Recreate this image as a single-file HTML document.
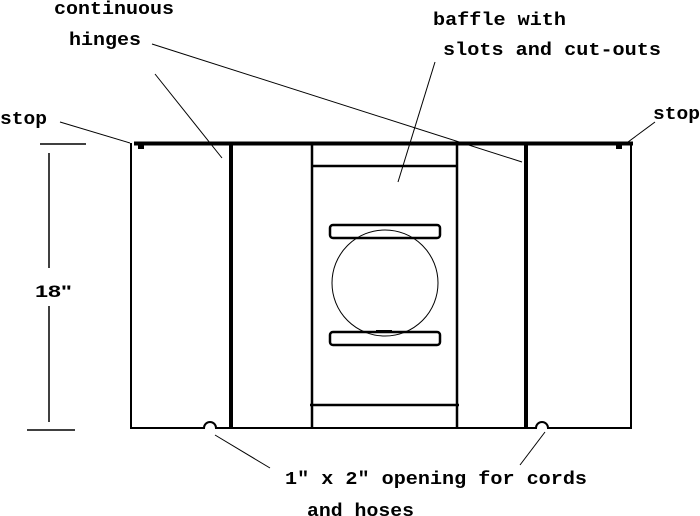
<!DOCTYPE html>
<html><head><style>html,body{margin:0;padding:0;background:#fff;}svg{display:block}
text{font-family:"Liberation Mono",monospace;font-weight:bold;font-size:18px;fill:#000}</style></head>
<body>
<svg width="700" height="516" viewBox="0 0 700 516" xmlns="http://www.w3.org/2000/svg">
<g stroke="#000" fill="none">
<line x1="134" y1="143.5" x2="633" y2="143.5" stroke-width="4"/>
<line x1="131" y1="143" x2="131" y2="428" stroke-width="2"/>
<line x1="631" y1="143" x2="631" y2="428" stroke-width="2"/>
<path d="M130 428 H204 A6 6 0 0 1 216 428 H536 A6 6 0 0 1 548 428 H632" stroke-width="2"/>
<line x1="231" y1="143" x2="231" y2="428" stroke-width="4"/>
<line x1="526" y1="143" x2="526" y2="428" stroke-width="4"/>
<line x1="312" y1="143" x2="312" y2="428" stroke-width="2.5"/>
<line x1="457" y1="143" x2="457" y2="428" stroke-width="2.5"/>
<line x1="312" y1="166" x2="457" y2="166" stroke-width="2.5"/>
<line x1="310" y1="405" x2="459" y2="405" stroke-width="2.5"/>
<rect x="330" y="225" width="110" height="13" rx="3" stroke-width="2.5"/>
<rect x="330" y="332" width="110" height="13" rx="3" stroke-width="2.5"/>
<circle cx="385" cy="283" r="53" stroke-width="1"/>
<line x1="376" y1="331" x2="392" y2="331" stroke-width="2"/>
<line x1="49" y1="153" x2="49" y2="268" stroke-width="1.5"/>
<line x1="49" y1="306" x2="49" y2="422" stroke-width="1.5"/>
<line x1="40" y1="144" x2="86" y2="144" stroke-width="1.5"/>
<line x1="27" y1="430" x2="75" y2="430" stroke-width="1.5"/>
<g stroke-width="1">
<line x1="60" y1="122" x2="130" y2="143"/>
<line x1="655" y1="122" x2="628" y2="142"/>
<line x1="155" y1="74" x2="222" y2="158"/>
<line x1="152" y1="44" x2="522" y2="162"/>
<line x1="435" y1="62" x2="398" y2="182"/>
<line x1="215" y1="435" x2="270" y2="468"/>
<line x1="545" y1="432" x2="520" y2="465"/>
</g>
</g>
<rect x="138" y="143" width="6" height="6" fill="#000"/>
<rect x="616" y="143" width="6" height="6" fill="#000"/>
<text x="54" y="14" textLength="120" lengthAdjust="spacingAndGlyphs">continuous</text>
<text x="69" y="45" textLength="72" lengthAdjust="spacingAndGlyphs">hinges</text>
<text x="0" y="124" textLength="47" lengthAdjust="spacingAndGlyphs">stop</text>
<text x="653" y="119" textLength="47" lengthAdjust="spacingAndGlyphs">stop</text>
<text x="433" y="25" textLength="133" lengthAdjust="spacingAndGlyphs">baffle with</text>
<text x="443" y="55" textLength="218" lengthAdjust="spacingAndGlyphs">slots and cut-outs</text>
<text x="35" y="297" textLength="37" lengthAdjust="spacingAndGlyphs" style="font-family:'Liberation Sans',sans-serif;font-size:17px">18"</text>
<text x="285" y="484" textLength="302" lengthAdjust="spacingAndGlyphs">1" x 2" opening for cords</text>
<text x="307" y="516" textLength="107" lengthAdjust="spacingAndGlyphs">and hoses</text>
</svg>
</body></html>
